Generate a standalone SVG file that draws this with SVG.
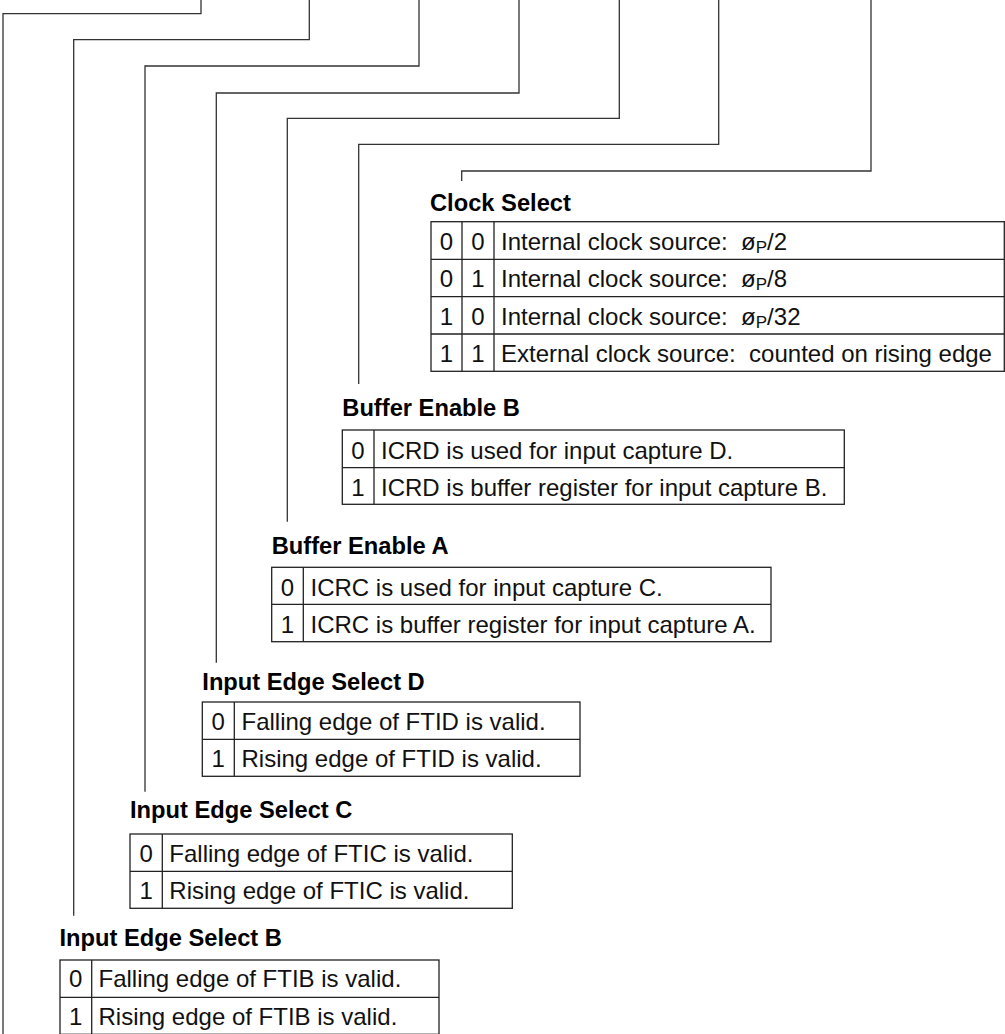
<svg xmlns="http://www.w3.org/2000/svg" width="1005" height="1034" viewBox="0 0 1005 1034">
<style>
.conn{fill:none;stroke:#333;stroke-width:1.3}
.tb{fill:none;stroke:#222;stroke-width:1.3}
.h{font-family:"Liberation Sans",Arial,sans-serif;font-size:23.7px;font-weight:bold;fill:#000}
.t{font-family:"Liberation Sans",Arial,sans-serif;font-size:24px;fill:#111;white-space:pre}
.n{text-anchor:middle}
.sub{font-size:17px}
</style>
<rect width="1005" height="1034" fill="#fff"/>
<g id="connectors">
<path class="conn" d="M201,0V13.7H3V1034"/>
<path class="conn" d="M309.3,0V39.7H73.7V915.7"/>
<path class="conn" d="M419,0V66H145V791.7"/>
<path class="conn" d="M519,0V93H216.3V662.7"/>
<path class="conn" d="M619.3,0V118.3H287.3V521.7"/>
<path class="conn" d="M718.7,0V144.3H358.7V384"/>
<path class="conn" d="M871,0V171H461.7V181"/>
</g>
<g id="clock-select">
<text class="h" x="430" y="211">Clock Select</text>
<rect class="tb" x="431" y="221.7" width="573.3" height="149.6"/>
<path class="tb" d="M462,221.7V371.3M494,221.7V371.3M431,259.3H1004.3M431,296.7H1004.3M431,334H1004.3"/>
<text class="t n" x="446.5" y="249.7">0</text><text class="t n" x="478" y="249.7">0</text>
<text class="t" x="501" y="249.7">Internal clock source:  ø<tspan class="sub" dy="3">P</tspan><tspan dy="-3">/2</tspan></text>
<text class="t n" x="446.5" y="287.3">0</text><text class="t n" x="478" y="287.3">1</text>
<text class="t" x="501" y="287.3">Internal clock source:  ø<tspan class="sub" dy="3">P</tspan><tspan dy="-3">/8</tspan></text>
<text class="t n" x="446.5" y="324.7">1</text><text class="t n" x="478" y="324.7">0</text>
<text class="t" x="501" y="324.7">Internal clock source:  ø<tspan class="sub" dy="3">P</tspan><tspan dy="-3">/32</tspan></text>
<text class="t n" x="446.5" y="362">1</text><text class="t n" x="478" y="362">1</text>
<text class="t" x="501" y="362">External clock source:  counted on rising edge</text>
</g>
<g id="buffer-enable-b">
<text class="h" x="342.3" y="415.7">Buffer Enable B</text>
<rect class="tb" x="342.3" y="430" width="502" height="74.3"/>
<path class="tb" d="M374,430V504.3M342.3,467.7H844.3"/>
<text class="t n" x="358" y="458.5">0</text>
<text class="t" x="381" y="458.5">ICRD is used for input capture D.</text>
<text class="t n" x="358" y="496">1</text>
<text class="t" x="381" y="496">ICRD is buffer register for input capture B.</text>
</g>
<g id="buffer-enable-a">
<text class="h" x="271.7" y="554.3">Buffer Enable A</text>
<rect class="tb" x="271.7" y="567.3" width="499.3" height="74.4"/>
<path class="tb" d="M303.3,567.3V641.7M271.7,604.3H771"/>
<text class="t n" x="287.5" y="596">0</text>
<text class="t" x="310.5" y="596">ICRC is used for input capture C.</text>
<text class="t n" x="287.5" y="633">1</text>
<text class="t" x="310.5" y="633">ICRC is buffer register for input capture A.</text>
</g>
<g id="input-edge-select-d">
<text class="h" x="202.3" y="690">Input Edge Select D</text>
<rect class="tb" x="202.3" y="702" width="377.7" height="74.3"/>
<path class="tb" d="M234.3,702V776.3M202.3,739.3H580"/>
<text class="t n" x="218.3" y="730">0</text>
<text class="t" x="241.5" y="730">Falling edge of FTID is valid.</text>
<text class="t n" x="218.3" y="767.3">1</text>
<text class="t" x="241.5" y="767.3">Rising edge of FTID is valid.</text>
</g>
<g id="input-edge-select-c">
<text class="h" x="130" y="818.3">Input Edge Select C</text>
<rect class="tb" x="130" y="834" width="382.3" height="74.3"/>
<path class="tb" d="M162.3,834V908.3M130,871.3H512.3"/>
<text class="t n" x="146.2" y="861.5">0</text>
<text class="t" x="169.3" y="861.5">Falling edge of FTIC is valid.</text>
<text class="t n" x="146.2" y="898.8">1</text>
<text class="t" x="169.3" y="898.8">Rising edge of FTIC is valid.</text>
</g>
<g id="input-edge-select-b">
<text class="h" x="59.5" y="945.7">Input Edge Select B</text>
<rect class="tb" x="60" y="960" width="379" height="74.3"/>
<path class="tb" d="M91.7,960V1034.3M60,997.3H439"/>
<text class="t n" x="75.8" y="987">0</text>
<text class="t" x="98.5" y="987">Falling edge of FTIB is valid.</text>
<text class="t n" x="75.8" y="1024.5">1</text>
<text class="t" x="98.5" y="1024.5">Rising edge of FTIB is valid.</text>
</g>
</svg>
